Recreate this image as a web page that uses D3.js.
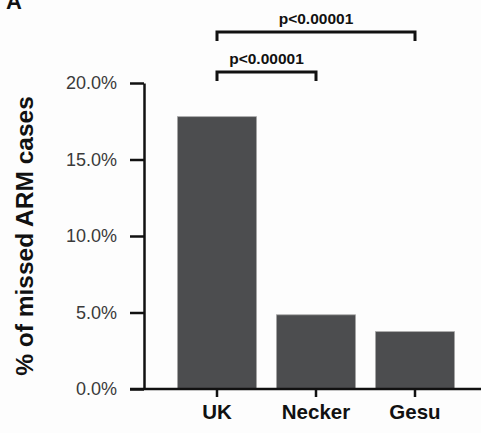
<!DOCTYPE html>
<html>
<head>
<meta charset="utf-8">
<script src="https://cdn.jsdelivr.net/npm/d3@7"></script>
<style>
  body { margin: 0; background: #fdfdfd; }
  svg { display: block; font-family: "Liberation Sans", Arial, sans-serif; }
</style>
</head>
<body>
<script>
// data
const sites = ["UK", "Necker", "Gesu"];
const missedPct = [17.8, 4.85, 3.75];
const yTicks = [0, 5, 10, 15, 20];
const comparisons = [
  { from: "UK", to: "Necker", label: "p<0.00001", level: 0 },
  { from: "UK", to: "Gesu", label: "p<0.00001", level: 1 }
];

width = 481;
height = 433;

svg = d3.select("body").append("svg")
  .attr("width", width)
  .attr("height", height);

x = d3.scaleBand().domain(sites).range([167.5, 464.5]).paddingInner(0.2).paddingOuter(0.1);
y = d3.scaleLinear().domain([0, 20]).range([389, 83]);

// bars
svg.selectAll(".bar")
  .data(sites)
  .join("rect")
  .attr("class", "bar")
  .attr("x", d => x(d))
  .attr("y", (d, i) => y(missedPct[i]))
  .attr("width", x.bandwidth())
  .attr("height", (d, i) => y(0) - y(missedPct[i]))
  .style("fill", "#4c4d4f")
  .style("stroke", "#a9a9a9")
  .style("stroke-width", 0.8);

// y axis
yAxis = svg.append("g")
  .attr("transform", "translate(144,0)")
  .call(d3.axisLeft(y).tickValues(yTicks).tickSize(14).tickSizeOuter(0).tickPadding(28)
    .tickFormat(d => d3.format(".1f")(d) + "%"));
yAxis.attr("font-size", null).attr("font-family", null);
yAxis.select(".domain").attr("stroke", "#111").attr("stroke-width", 2.5);
yAxis.selectAll(".tick line").attr("stroke", "#111").attr("stroke-width", 2.5);
yAxis.selectAll(".tick text")
  .attr("x", -27)
  .attr("font-size", 18)
  .attr("fill", "#3a3a3a");

// x axis
xAxis = svg.append("g")
  .attr("transform", "translate(0," + y(0) + ")")
  .call(d3.axisBottom(x).tickSize(8).tickSizeOuter(0));
xAxis.attr("font-size", null).attr("font-family", null);
xAxis.select(".domain").remove();
xAxis.selectAll(".tick line").attr("stroke", "#111").attr("stroke-width", 2.5);
xAxis.selectAll(".tick text")
  .attr("dy", null)
  .attr("y", 30)
  .attr("font-size", 20.5)
  .attr("font-weight", "bold")
  .attr("fill", "#111");
xAxis.append("line")
  .attr("x1", 130).attr("x2", width)
  .attr("y1", 0).attr("y2", 0)
  .attr("stroke", "#111")
  .attr("stroke-width", 2.5);

// y axis title
svg.append("text")
  .attr("transform", "translate(33," + (y(0) + y(20)) / 2 + ") rotate(-90)")
  .attr("text-anchor", "middle")
  .style("font-size", "24.5px")
  .style("font-weight", "bold")
  .style("fill", "#111")
  .text("% of missed ARM cases");

// significance brackets
const cx = d => x(d) + x.bandwidth() / 2;
comparisons.forEach(c => {
  const by = 72 - c.level * 40;
  svg.append("path")
    .attr("d", "M" + cx(c.from) + "," + (by + 9) + "V" + by + "H" + cx(c.to) + "V" + (by + 9))
    .attr("fill", "none")
    .attr("stroke", "#111")
    .attr("stroke-width", 3);
  svg.append("text")
    .attr("x", (cx(c.from) + cx(c.to)) / 2)
    .attr("y", by - 8)
    .attr("text-anchor", "middle")
    .style("font-size", "15.5px")
    .style("font-weight", "bold")
    .style("fill", "#111")
    .text(c.label);
});

// panel letter (cut off at the top edge, as in the source figure)
svg.append("text")
  .attr("x", 6)
  .attr("y", 9)
  .style("font-size", "22px")
  .style("font-weight", "bold")
  .style("fill", "#111")
  .text("A");
</script>
</body>
</html>
